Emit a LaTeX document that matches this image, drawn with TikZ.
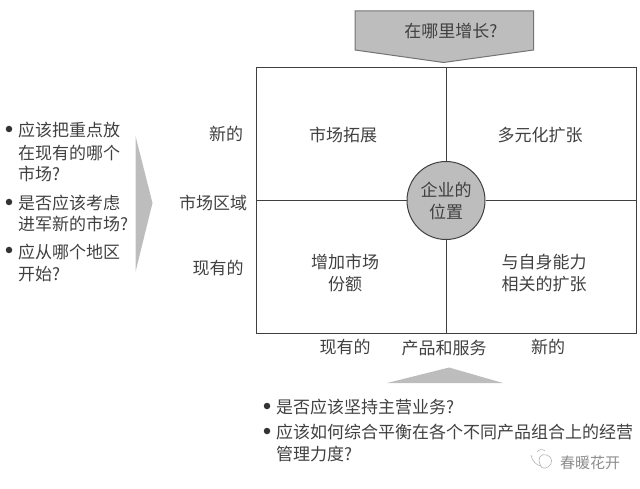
\documentclass[tikz,border=0pt]{standalone}
\usepackage{fontspec}
\setmainfont{Noto Sans CJK SC}
\definecolor{ink}{gray}{0.25}
\definecolor{framec}{gray}{0.25}
\definecolor{fillg}{gray}{0.74}
\definecolor{arrowg}{gray}{0.74}
\tikzset{
  x=1pt,y=-1pt,
  txt/.style={inner sep=0pt,text=ink,font=\fontsize{17}{17}\selectfont,align=center},
  ltxt/.style={txt,anchor=west},
  bul/.style={circle,fill=black!80,inner sep=0pt,minimum size=6.5pt},
  gridline/.style={draw=framec,line width=1pt},
  mark box/.style={draw=framec,line width=1pt},
  wm/.style={draw=black!30,line width=0.6pt}
}
\begin{document}
\begin{tikzpicture}
\useasboundingbox (0,0) rectangle (640,489);
% frame
\node[mark box,minimum width=380pt,minimum height=265pt,inner sep=0pt] (frame) at (446,200.5) {};
% top arrow
\path[fill=fillg,draw=black!55,line width=1pt] (355,11) -- (533.5,11) -- (533.5,50) -- (443.5,62.5) -- (355,50) -- cycle;
\node[txt] (q) at (451,31) {在哪里增长?};
% grid connectors through the circle
\node[circle,draw=framec,fill=fillg,line width=1pt,minimum size=78pt,inner sep=0pt,txt] (pos) at (446,200.5) {企业的\\[5pt]位置};
\coordinate (ftop) at (frame.north);
\coordinate (fbot) at (frame.south);
\coordinate (fleft) at (frame.west);
\coordinate (fright) at (frame.east);
\draw[gridline] (ftop) -- (pos.north);
\draw[gridline] (pos.south) -- (fbot);
\draw[gridline] (fleft) -- (pos.west);
\draw[gridline] (pos.east) -- (fright);
% quadrants
\node[txt] (q1) at (343,135) {市场拓展};
\node[txt] (q2) at (540,135) {多元化扩张};
\node[txt] (q3) at (345,273) {增加市场\\[5pt]份额};
\node[txt] (q4) at (544,273) {与自身能力\\[5pt]相关的扩张};
% axis labels
\node[txt] (y1) at (226,134) {新的};
\node[txt] (y2) at (213,203) {市场区域};
\node[txt] (y3) at (218,268) {现有的};
\node[txt] (x1) at (345,347) {现有的};
\node[txt] (x2) at (444,348) {产品和服务};
\node[txt] (x3) at (548,347) {新的};
% left arrow
\path[fill=arrowg] (135.5,136) -- (152.5,203) -- (135.5,272) -- cycle;
% bottom arrow
\path[fill=arrowg] (449,367.5) -- (503,383) -- (387,383) -- cycle;
% left bullets
\node[bul] (b1) at (9,129) {};
\node[ltxt] (l1) at (18,130) {应该把重点放};
\node[ltxt] (l2) at (18,153) {在现有的哪个};
\node[ltxt] (l3) at (18,174) {市场?};
\node[bul] (b2) at (9,202) {};
\node[ltxt] (l4) at (18,203) {是否应该考虑};
\node[ltxt] (l5) at (18,224) {进军新的市场?};
\node[bul] (b3) at (9,250) {};
\node[ltxt] (l6) at (18,252) {应从哪个地区};
\node[ltxt] (l7) at (18,274) {开始?};
% bottom bullets
\node[bul] (b4) at (267,406) {};
\node[ltxt] (m1) at (276,407) {是否应该坚持主营业务?};
\node[bul] (b5) at (267,431) {};
\node[ltxt] (m2) at (276,432) {应该如何综合平衡在各个不同产品组合上的经营};
\node[ltxt] (m3) at (276,454) {管理力度?};
% watermark
\draw[wm] (531,455) .. controls (532,461) and (536,465) .. (541,466);
\draw[wm] (541,466) .. controls (536,458) and (541,453) .. (547,455);
\draw[wm] (547,455) .. controls (553,457) and (553,464) .. (548,467) .. controls (545,469) and (541,468) .. (541,466);
\draw[wm] (537,452) .. controls (539,449) and (543,449) .. (545,451);
\node[ltxt,text=black!45,font=\fontsize{15}{15}\selectfont] (wm) at (560,463) {春暖花开};
\end{tikzpicture}
\end{document}
